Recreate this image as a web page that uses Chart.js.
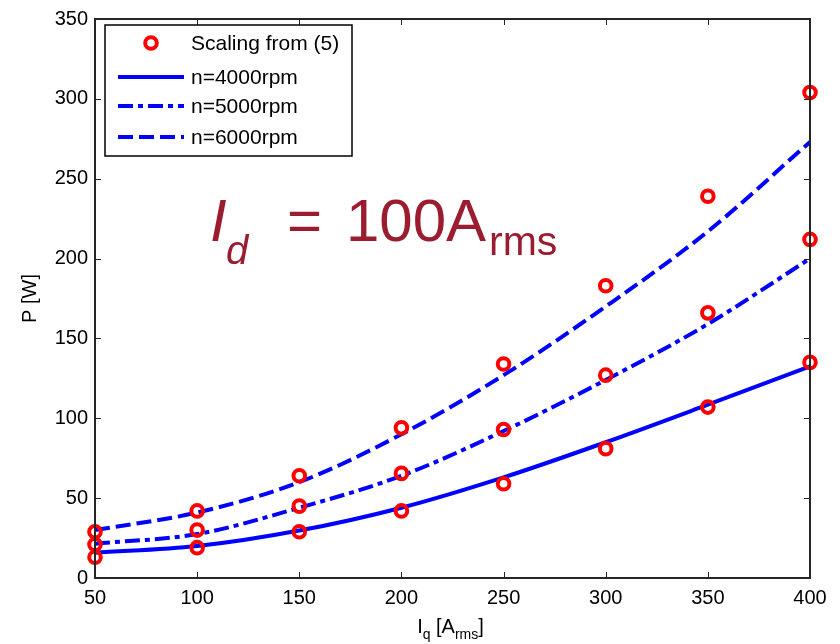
<!DOCTYPE html>
<html>
<head>
<meta charset="utf-8">
<script src="https://cdn.jsdelivr.net/npm/chart.js@4/dist/chart.umd.min.js"></script>
<style>
  body { margin: 0; background: #fff; }
  canvas { display: block; }
</style>
</head>
<body>
<canvas id="chart" width="840" height="644"></canvas>
<script>
// data
const iq = [50, 100, 150, 200, 250, 300, 350, 400];
const scaled4000 = [13, 19, 29, 42, 59, 81, 107, 135];
const scaled5000 = [21, 30, 45, 65.5, 93, 127, 166, 212];
const scaled6000 = [29, 42, 64, 94, 134, 183, 239, 304];
const n4000 = [15.8, 20, 29.7, 44, 63, 85, 108.5, 132.5];
const n5000 = [21.5, 27.5, 44, 64, 92, 124, 159, 200];
const n6000 = [30, 41, 60, 90, 127, 170, 217, 273];
const xTicks = [50, 100, 150, 200, 250, 300, 350, 400];
const yTicks = [0, 50, 100, 150, 200, 250, 300, 350];
const legendLabels = ['Scaling from (5)', 'n=4000rpm', 'n=5000rpm', 'n=6000rpm'];

const FONT = "'Liberation Sans', Arial, sans-serif";
const BLUE = '#0000ff';
const RED = '#ff0000';
const MAROON = '#9b1c2e';
const DASHED = [15, 6];
const DASHDOT = [15, 5, 5, 5];

const pts = (ys) => iq.map((x, i) => ({ x: x, y: ys[i] }));

function circles(ys) {
  return {
    data: pts(ys),
    showLine: false,
    clip: false,
    pointStyle: 'circle',
    pointRadius: 5.8,
    pointBorderWidth: 4,
    pointBorderColor: RED,
    pointBackgroundColor: 'rgba(0,0,0,0)',
    order: 0
  };
}

function curve(ys, dash) {
  return {
    data: pts(ys),
    borderColor: BLUE,
    borderWidth: 4,
    borderDash: dash,
    pointRadius: 0,
    cubicInterpolationMode: 'monotone',
    fill: false,
    order: 1
  };
}

// draws the MATLAB-like box, inward ticks, legend, titles and the I_d note
const matlabLook = {
  id: 'matlabLook',
  afterDraw(chart) {
    const ctx = chart.ctx;
    const a = chart.chartArea;
    const xs = chart.scales.x, ys = chart.scales.y;
    ctx.save();

    // ticks pointing inwards on all four sides
    ctx.strokeStyle = '#262626';
    ctx.lineWidth = 1;
    ctx.beginPath();
    xTicks.forEach(v => {
      const px = Math.round(xs.getPixelForValue(v)) + 0.5;
      ctx.moveTo(px, a.bottom); ctx.lineTo(px, a.bottom - 6);
      ctx.moveTo(px, a.top); ctx.lineTo(px, a.top + 6);
    });
    yTicks.forEach(v => {
      const py = Math.round(ys.getPixelForValue(v)) + 0.5;
      ctx.moveTo(a.left, py); ctx.lineTo(a.left + 6, py);
      ctx.moveTo(a.right, py); ctx.lineTo(a.right - 6, py);
    });
    ctx.stroke();

    // axes box
    ctx.lineWidth = 2;
    ctx.strokeRect(a.left, a.top, a.right - a.left, a.bottom - a.top);

    // legend
    const lx = 105, ly = 25, lw = 247, lh = 131;
    ctx.fillStyle = '#fff';
    ctx.fillRect(lx, ly, lw, lh);
    ctx.lineWidth = 1.5;
    ctx.strokeStyle = '#000';
    ctx.strokeRect(lx, ly, lw, lh);
    const rows = [43, 77, 106, 137];
    ctx.font = '21px ' + FONT;
    ctx.fillStyle = '#000';
    ctx.textBaseline = 'middle';
    ctx.textAlign = 'left';
    legendLabels.forEach((t, i) => ctx.fillText(t, 191, rows[i] + 1));
    ctx.strokeStyle = RED;
    ctx.lineWidth = 4;
    ctx.beginPath();
    ctx.arc(151, rows[0], 5.8, 0, Math.PI * 2);
    ctx.stroke();
    ctx.strokeStyle = BLUE;
    ctx.lineWidth = 4;
    [[], DASHDOT, DASHED].forEach((d, i) => {
      ctx.setLineDash(d);
      ctx.beginPath();
      ctx.moveTo(118, rows[i + 1]);
      ctx.lineTo(184, rows[i + 1]);
      ctx.stroke();
    });
    ctx.setLineDash([]);

    // I_d = 100A_rms
    ctx.fillStyle = MAROON;
    ctx.textBaseline = 'alphabetic';
    ctx.font = 'italic 60px ' + FONT;
    ctx.fillText('I', 210, 241);
    ctx.font = 'italic 40px ' + FONT;
    ctx.fillText('d', 226, 264);
    ctx.font = '60px ' + FONT;
    ctx.fillText('=', 287, 241);
    ctx.fillText('100A', 346, 241);
    ctx.font = '41px ' + FONT;
    ctx.fillText('rms', 489, 255);

    // x title: I_q [A_rms]
    ctx.fillStyle = '#000';
    const big = '20px ' + FONT, small = '14px ' + FONT;
    const parts = [['I', big, 0], ['q', small, 6], [' [A', big, 0], ['rms', small, 6], [']', big, 0]];
    let total = 0;
    parts.forEach(p => { ctx.font = p[1]; total += ctx.measureText(p[0]).width; });
    let cx = (a.left + a.right) / 2 - total / 2 - 2;
    parts.forEach(p => {
      ctx.font = p[1];
      ctx.fillText(p[0], cx, 633 + p[2]);
      cx += ctx.measureText(p[0]).width;
    });

    // y title
    ctx.translate(36, (a.top + a.bottom) / 2);
    ctx.rotate(-Math.PI / 2);
    ctx.textAlign = 'center';
    ctx.font = big;
    ctx.fillText('P [W]', 0, 0);
    ctx.restore();
  }
};

new Chart(document.getElementById('chart'), {
  type: 'line',
  data: {
    datasets: [
      circles(scaled4000),
      circles(scaled5000),
      circles(scaled6000),
      curve(n4000, []),
      curve(n5000, DASHDOT),
      curve(n6000, DASHED)
    ]
  },
  options: {
    responsive: false,
    animation: false,
    events: [],
    layout: { padding: { top: 15, right: 30, left: 0, bottom: 0 } },
    plugins: { legend: { display: false }, tooltip: { enabled: false } },
    scales: {
      x: {
        type: 'linear',
        min: 50, max: 400,
        afterFit(s) { s.height = 66; },
        afterBuildTicks(s) { s.ticks = xTicks.map(v => ({ value: v })); },
        grid: { display: false, drawTicks: false },
        border: { display: false },
        ticks: { padding: 8, color: '#000', font: { family: FONT, size: 20 } }
      },
      y: {
        type: 'linear',
        min: 0, max: 350,
        afterFit(s) { s.width = 95; },
        afterBuildTicks(s) { s.ticks = yTicks.map(v => ({ value: v })); },
        grid: { display: false, drawTicks: false },
        border: { display: false },
        ticks: { padding: 7, color: '#000', font: { family: FONT, size: 20 } }
      }
    }
  },
  plugins: [matlabLook]
});
</script>
</body>
</html>
